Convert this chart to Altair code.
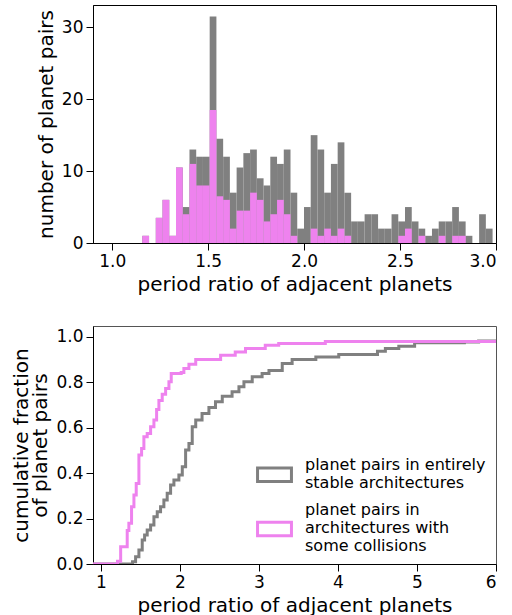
import altair as alt
import pandas as pd
import numpy as np

# ---------------- data: histogram (top panel) ----------------
bin_first_edge = 1.157
bin_width = 0.0351
grey_counts = [1, 0, 3.5, 6, 1, 10.5, 5, 13, 12, 12, 31.5, 14.5, 12, 7, 10.5, 12.5,
               13, 9, 8, 12, 11, 13, 7, 2, 5, 15, 13, 7, 11, 14, 7, 3, 3, 4, 4, 2,
               2, 4, 3, 5, 3, 2, 1, 2, 3, 3, 5, 3, 1, 0, 4, 2]
pink_counts = [1, 0, 3.5, 6, 1, 10.5, 4, 11, 8, 8, 18.5, 6.5, 6, 2, 4.5, 4.5,
               7, 6, 3, 4, 6, 4, 1, 0, 0, 2, 1, 2, 1, 2, 1, 0, 0, 0, 0, 0,
               0, 0, 1, 2, 0, 1, 0, 0, 1, 0, 1, 1, 0, 0, 0, 0]

# ---------------- data: cumulative fractions (bottom panel) ----------------
grey_x = [0.9, 1.40, 1.439, 1.481, 1.523, 1.553, 1.586, 1.629, 1.671, 1.713, 1.755,
          1.797, 1.839, 1.882, 1.924, 1.987, 2.03, 2.072, 2.114, 2.156, 2.2, 2.28,
          2.367, 2.45, 2.536, 2.66, 2.747, 2.81, 2.915, 3.04, 3.127, 3.295, 3.42,
          3.72, 4.01, 4.5, 4.6, 4.77, 4.97, 5.6, 5.78, 6.0]
grey_y = [0.0, 0.01, 0.032, 0.062, 0.106, 0.128, 0.15, 0.172, 0.208, 0.23, 0.252,
          0.282, 0.311, 0.348, 0.37, 0.392, 0.428, 0.502, 0.531, 0.604, 0.634, 0.663,
          0.689, 0.714, 0.739, 0.758, 0.78, 0.802, 0.824, 0.839, 0.852, 0.883, 0.9,
          0.912, 0.922, 0.937, 0.949, 0.959, 0.974, 0.977, 0.982, 0.982]
pink_x = [0.9, 1.21, 1.25, 1.333, 1.354, 1.388, 1.418, 1.447, 1.481, 1.515, 1.544,
          1.586, 1.629, 1.671, 1.705, 1.734, 1.776, 1.819, 1.861, 1.89, 2.016, 2.05,
          2.114, 2.2, 2.515, 2.70, 2.83, 3.08, 3.25, 3.84, 6.0]
pink_y = [0.0, 0.012, 0.076, 0.147, 0.179, 0.252, 0.304, 0.355, 0.48, 0.509, 0.56,
          0.575, 0.604, 0.634, 0.68, 0.72, 0.748, 0.773, 0.802, 0.839, 0.843, 0.861,
          0.88, 0.9, 0.919, 0.934, 0.949, 0.963, 0.971, 0.98, 0.982]

series_names = ["stable", "collision"]
series_colors = ["grey", "violet"]
legend_labels = {
    "stable": ["planet pairs in entirely", "stable architectures"],
    "collision": ["planet pairs in", "architectures with", "some collisions"],
}

FONT = "DejaVu Sans"

# ---------------- tables ----------------
n = len(grey_counts)
edges = bin_first_edge + bin_width * np.arange(n + 1)
hist = pd.DataFrame({
    "lo": edges[:-1],
    "hi": edges[1:],
    "grey": grey_counts,
    "pink": pink_counts,
})

ecdf = pd.concat([
    pd.DataFrame({"x": grey_x, "y": grey_y, "series": "stable"}),
    pd.DataFrame({"x": pink_x, "y": pink_y, "series": "collision"}),
])

# ---------------- top panel ----------------
xs_top = alt.Scale(domain=[0.9, 3.0], nice=False, zero=False)
ys_top = alt.Scale(domain=[0, 33.1], nice=False)

x_top_axis = alt.Axis(values=[1.0, 1.5, 2.0, 2.5, 3.0], format=".1f",
                      title="period ratio of adjacent planets")
y_top_axis = alt.Axis(values=[0, 10, 20, 30], title="number of planet pairs")

grey_bars = alt.Chart(hist).mark_rect(color="grey").encode(
    x=alt.X("lo:Q", scale=xs_top, axis=x_top_axis),
    x2="hi:Q",
    y=alt.Y("grey:Q", scale=ys_top, axis=y_top_axis),
    y2=alt.datum(0),
)
pink_bars = alt.Chart(hist).mark_rect(color="violet").encode(
    x=alt.X("lo:Q", scale=xs_top),
    x2="hi:Q",
    y=alt.Y("pink:Q", scale=ys_top),
    y2=alt.datum(0),
)
top = alt.layer(grey_bars, pink_bars).properties(
    width=403, height=238,
    view=alt.ViewBackground(stroke="black", strokeWidth=1),
)

# ---------------- bottom panel ----------------
label_expr = ("datum.value == 'stable' ? " + str(legend_labels["stable"]) +
              " : " + str(legend_labels["collision"]))

# outline-rectangle legend keys, lowered so each sits beside the middle of its label
key_shapes = ["M-1,0.2H1V1.0H-1Z", "M-1,0.75H1V1.55H-1Z"]

legend_kw = dict(
    title=None, orient="none", legendX=163, legendY=120,
    symbolSize=1150, symbolStrokeWidth=3, symbolFillColor="transparent",
    symbolOpacity=1,
    labelFont=FONT, labelFontSize=16, labelColor="black",
    labelOffset=12, labelLimit=400, rowPadding=-4, padding=0,
    labelExpr=label_expr,
)

xs_bot = alt.Scale(domain=[0.9, 6.0], nice=False, zero=False)
ys_bot = alt.Scale(domain=[0, 1.048], nice=False)

x_bot = alt.X("x:Q", scale=xs_bot,
              axis=alt.Axis(values=[1, 2, 3, 4, 5, 6], format="d",
                            title="period ratio of adjacent planets"))
y_bot = alt.Y("y:Q", scale=ys_bot,
              axis=alt.Axis(values=[0, 0.2, 0.4, 0.6, 0.8, 1.0], format=".1f",
                            title=["cumulative fraction", "of planet pairs"]))
color = alt.Color("series:N",
                  scale=alt.Scale(domain=series_names, range=series_colors),
                  legend=alt.Legend(**legend_kw))
shape = alt.Shape("series:N",
                  scale=alt.Scale(domain=series_names, range=key_shapes),
                  legend=alt.Legend(**legend_kw))

lines = alt.Chart(ecdf).mark_line(
    interpolate="step-after", strokeWidth=3, clip=True
).encode(
    x=x_bot, y=y_bot, color=color,
    order=alt.Order("series:N", sort="descending"),
)
keys = alt.Chart(ecdf).mark_point(filled=False, opacity=0, strokeWidth=3).encode(
    x=x_bot, y=y_bot, color=color, shape=shape,
)
bottom = alt.layer(lines, keys).properties(
    width=403, height=238,
    view=alt.ViewBackground(stroke="#555555", strokeWidth=1),
)

chart = alt.vconcat(top, bottom, spacing=83, bounds="flush").resolve_legend(
    color="independent", shape="independent"
).properties(
    padding={"left": 11, "top": 4, "right": 5, "bottom": 3},
).configure_axis(
    labelFont=FONT, labelFontSize=17, labelColor="black",
    titleFont=FONT, titleFontSize=20, titleFontWeight="normal", titleColor="black",
    tickSize=7, tickColor="black", domainColor="black", grid=False,
    labelPadding=3, titlePadding=5, titleLineHeight=19,
).configure_view(stroke="black")

chart.save("out.html", embed_options={"renderer": "svg", "actions": False})
